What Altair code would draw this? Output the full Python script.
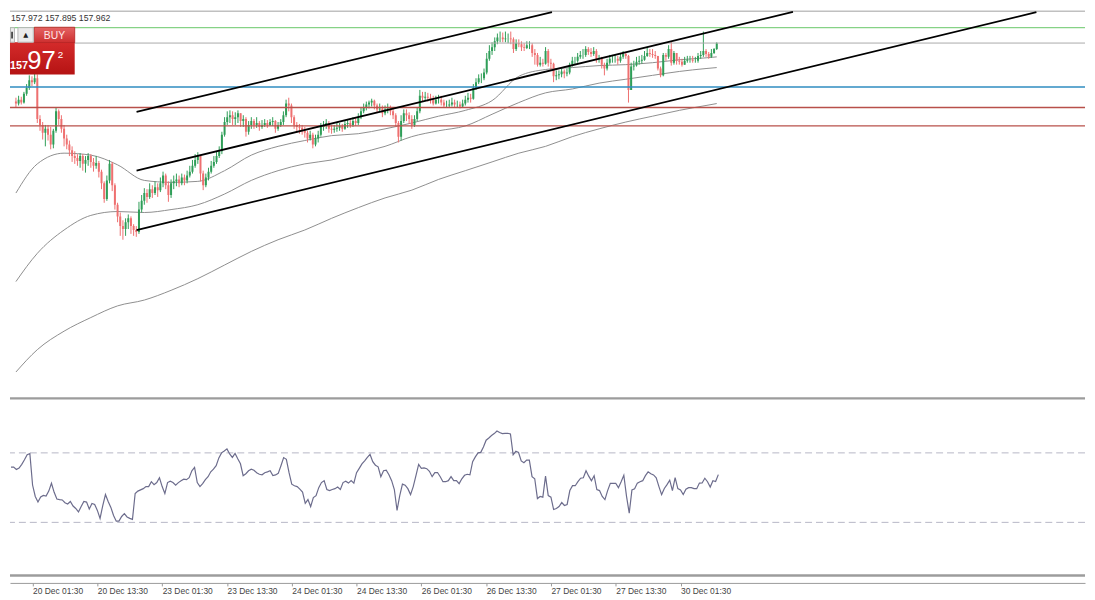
import altair as alt
import pandas as pd

# ---------------- data (M30 bars, index 0 = 20 Dec 01:30) ----------------
first_index = -8
first_open = 157.36

close = [
    157.34, 157.38, 157.35, 157.44, 157.50, 157.58, 157.56, 157.60, 157.18, 157.12,
    157.04, 157.08, 157.02, 156.92, 157.06, 157.26, 157.18, 157.08, 156.98, 156.92,
    156.86, 156.80, 156.78, 156.75, 156.80, 156.72, 156.76, 156.80, 156.74, 156.70,
    156.73, 156.64, 156.52, 156.36, 156.55, 156.72, 156.50, 156.30, 156.18, 156.08,
    156.05, 156.12, 156.16, 156.08, 156.04, 156.02, 156.25, 156.34, 156.42, 156.38,
    156.46, 156.42, 156.48, 156.45, 156.52, 156.60, 156.50, 156.40, 156.52, 156.54,
    156.56, 156.52, 156.58, 156.55, 156.60, 156.64, 156.70, 156.76, 156.80, 156.62,
    156.50, 156.58, 156.64, 156.70, 156.74, 156.80, 156.85, 157.02, 157.15, 157.20,
    157.22, 157.18, 157.20, 157.24, 157.16, 157.18, 157.05, 157.12, 157.16, 157.12,
    157.14, 157.10, 157.12, 157.14, 157.12, 157.15, 157.16, 157.08, 157.12, 157.15,
    157.22, 157.34, 157.32, 157.20, 157.12, 157.10, 157.09, 157.06, 157.04, 156.98,
    157.02, 156.92, 156.98, 157.02, 157.10, 157.12, 157.14, 157.08, 157.07, 157.08,
    157.09, 157.11, 157.08, 157.13, 157.14, 157.12, 157.16, 157.14, 157.20, 157.26,
    157.30, 157.33, 157.35, 157.37, 157.32, 157.28, 157.29, 157.24, 157.28, 157.29,
    157.26, 157.22, 157.14, 157.00, 157.16, 157.24, 157.22, 157.18, 157.12, 157.18,
    157.26, 157.42, 157.40, 157.41, 157.40, 157.38, 157.34, 157.38, 157.38, 157.35,
    157.32, 157.32, 157.33, 157.35, 157.33, 157.33, 157.31, 157.34, 157.38, 157.40,
    157.39, 157.50, 157.56, 157.60, 157.60, 157.66, 157.80, 157.88, 157.92, 157.98,
    158.02, 158.02, 158.00, 158.01, 158.01, 158.00, 157.90, 157.96, 157.95, 157.92,
    157.91, 157.94, 157.94, 157.86, 157.84, 157.74, 157.76, 157.75, 157.88, 157.76,
    157.75, 157.62, 157.63, 157.64, 157.67, 157.65, 157.66, 157.74, 157.78, 157.78,
    157.82, 157.84, 157.84, 157.90, 157.87, 157.85, 157.88, 157.80, 157.80, 157.74,
    157.70, 157.76, 157.80, 157.80, 157.80, 157.78, 157.82, 157.85, 157.83, 157.48,
    157.72, 157.73, 157.77, 157.78, 157.79, 157.83, 157.86, 157.85, 157.84, 157.83,
    157.70, 157.63, 157.84, 157.82, 157.90, 157.76, 157.86, 157.78, 157.77, 157.74,
    157.78, 157.79, 157.79, 157.78, 157.78, 157.83, 157.84, 157.88, 157.85, 157.82,
    157.86, 157.90, 157.96,
]

high = [
    157.40, 157.42, 157.41, 157.46, 157.54, 157.63, 157.62, 157.65, 157.64, 157.22,
    157.15, 157.12, 157.12, 157.10, 157.08, 157.30, 157.28, 157.22, 157.12, 157.02,
    156.96, 156.90, 156.85, 156.82, 156.83, 156.82, 156.80, 156.83, 156.82, 156.78,
    156.80, 156.75, 156.66, 156.54, 156.60, 156.76, 156.74, 156.52, 156.32, 156.22,
    156.14, 156.16, 156.20, 156.18, 156.10, 156.08, 156.33, 156.40, 156.47, 156.46,
    156.52, 156.50, 156.54, 156.52, 156.58, 156.64, 156.62, 156.54, 156.56, 156.60,
    156.62, 156.60, 156.62, 156.61, 156.65, 156.70, 156.76, 156.82, 156.84, 156.80,
    156.65, 156.62, 156.68, 156.75, 156.80, 156.85, 156.90, 157.05, 157.20, 157.26,
    157.27, 157.26, 157.25, 157.27, 157.24, 157.22, 157.20, 157.16, 157.20, 157.18,
    157.20, 157.16, 157.17, 157.18, 157.17, 157.18, 157.20, 157.17, 157.15, 157.18,
    157.26, 157.38, 157.40, 157.34, 157.22, 157.15, 157.13, 157.12, 157.10, 157.06,
    157.06, 157.04, 157.02, 157.06, 157.14, 157.16, 157.18, 157.16, 157.12, 157.12,
    157.14, 157.14, 157.13, 157.16, 157.18, 157.17, 157.20, 157.19, 157.24, 157.30,
    157.34, 157.36, 157.37, 157.39, 157.38, 157.34, 157.34, 157.32, 157.32, 157.34,
    157.32, 157.30, 157.24, 157.16, 157.22, 157.28, 157.28, 157.25, 157.22, 157.22,
    157.30, 157.48, 157.46, 157.46, 157.45, 157.44, 157.42, 157.42, 157.43, 157.42,
    157.38, 157.37, 157.38, 157.40, 157.38, 157.37, 157.36, 157.38, 157.42, 157.45,
    157.44, 157.54, 157.60, 157.64, 157.65, 157.70, 157.86, 157.94, 157.97, 158.02,
    158.06, 158.08, 158.07, 158.08, 158.06, 158.08, 158.02, 158.00, 158.00, 157.98,
    157.96, 157.98, 157.98, 157.96, 157.90, 157.86, 157.82, 157.80, 157.92, 157.90,
    157.80, 157.76, 157.68, 157.68, 157.70, 157.69, 157.70, 157.76, 157.82, 157.82,
    157.86, 157.88, 157.90, 157.93, 157.92, 157.91, 157.92, 157.90, 157.84, 157.82,
    157.76, 157.80, 157.84, 157.84, 157.84, 157.83, 157.86, 157.88, 157.86, 157.84,
    157.76, 157.78, 157.82, 157.83, 157.84, 157.88, 157.92, 157.90, 157.90, 157.88,
    157.76, 157.72, 157.86, 157.86, 157.94, 157.98, 157.88, 157.86, 157.82, 157.80,
    157.82, 157.83, 157.83, 157.83, 157.82, 157.86, 157.88, 158.08, 157.90, 157.87,
    157.90, 157.91, 157.97,
]

low = [
    157.30, 157.32, 157.33, 157.34, 157.42, 157.48, 157.52, 157.54, 157.14, 157.06,
    156.97, 156.90, 156.96, 156.87, 156.88, 157.04, 157.12, 157.04, 156.90, 156.87,
    156.80, 156.74, 156.72, 156.70, 156.68, 156.65, 156.63, 156.70, 156.68, 156.64,
    156.67, 156.58, 156.46, 156.32, 156.34, 156.52, 156.44, 156.25, 156.12, 155.98,
    155.94, 155.98, 156.05, 156.00, 155.98, 155.97, 156.00, 156.22, 156.30, 156.32,
    156.36, 156.37, 156.40, 156.38, 156.43, 156.48, 156.46, 156.33, 156.37, 156.46,
    156.49, 156.48, 156.50, 156.50, 156.52, 156.58, 156.62, 156.68, 156.72, 156.54,
    156.45, 156.48, 156.55, 156.62, 156.68, 156.72, 156.78, 156.82, 157.00, 157.12,
    157.14, 157.12, 157.12, 157.14, 157.10, 157.10, 157.00, 157.02, 157.08, 157.08,
    157.09, 157.06, 157.08, 157.10, 157.09, 157.11, 157.11, 157.04, 157.06, 157.10,
    157.12, 157.20, 157.26, 157.14, 157.08, 157.04, 157.03, 157.02, 156.99, 156.94,
    156.96, 156.88, 156.90, 156.94, 157.00, 157.06, 157.08, 157.04, 157.03, 157.04,
    157.05, 157.06, 157.05, 157.07, 157.09, 157.09, 157.10, 157.11, 157.12, 157.18,
    157.24, 157.27, 157.29, 157.31, 157.28, 157.25, 157.26, 157.20, 157.22, 157.24,
    157.22, 157.18, 157.10, 156.94, 156.96, 157.14, 157.16, 157.13, 157.08, 157.10,
    157.16, 157.24, 157.36, 157.37, 157.36, 157.34, 157.32, 157.33, 157.34, 157.32,
    157.30, 157.30, 157.30, 157.31, 157.30, 157.30, 157.29, 157.30, 157.32, 157.35,
    157.35, 157.38, 157.48, 157.54, 157.55, 157.58, 157.64, 157.78, 157.84, 157.88,
    157.95, 157.97, 157.97, 157.97, 157.96, 157.95, 157.86, 157.88, 157.92, 157.88,
    157.88, 157.90, 157.90, 157.82, 157.74, 157.72, 157.72, 157.72, 157.74, 157.72,
    157.68, 157.56, 157.58, 157.59, 157.61, 157.60, 157.62, 157.64, 157.72, 157.74,
    157.76, 157.80, 157.80, 157.82, 157.84, 157.82, 157.83, 157.76, 157.76, 157.70,
    157.63, 157.68, 157.74, 157.76, 157.76, 157.74, 157.76, 157.80, 157.80, 157.35,
    157.48, 157.68, 157.72, 157.74, 157.75, 157.78, 157.82, 157.82, 157.81, 157.80,
    157.68, 157.61, 157.62, 157.78, 157.80, 157.73, 157.74, 157.74, 157.74, 157.72,
    157.74, 157.76, 157.76, 157.76, 157.76, 157.76, 157.80, 157.82, 157.82, 157.80,
    157.81, 157.85, 157.89,
]

rsi = [
    61.8, 61.8, 60.4, 61.3, 63.4, 66.0, 68.9, 69.6, 51.5, 44.9,
    41.7, 44.6, 45.5, 45.2, 48.0, 52.5, 47.3, 43.4, 43.1, 42.9,
    41.3, 40.6, 42.0, 39.4, 38.0, 36.0, 39.1, 42.0, 41.7, 37.7,
    40.9, 40.3, 36.9, 32.3, 39.7, 46.0, 42.0, 38.6, 34.0, 30.7,
    30.7, 33.4, 35.0, 33.1, 32.3, 31.7, 46.6, 48.0, 48.7, 49.4,
    50.6, 50.6, 53.4, 51.7, 52.9, 55.7, 50.6, 46.6, 52.9, 53.7,
    52.9, 51.4, 52.9, 54.0, 54.9, 54.6, 55.7, 59.7, 61.6, 52.9,
    50.6, 52.3, 54.6, 56.3, 59.1, 60.6, 62.6, 67.1, 70.0, 71.1,
    72.3, 69.4, 67.4, 69.7, 66.6, 63.7, 56.9, 58.0, 59.7, 60.6,
    60.0, 58.6, 57.7, 57.4, 58.6, 59.1, 59.7, 56.9, 57.3, 58.2,
    62.6, 67.3, 66.3, 58.6, 52.0, 51.1, 50.6, 49.1, 47.4, 40.9,
    43.1, 39.1, 44.3, 45.4, 50.0, 52.9, 54.0, 48.9, 48.3, 48.9,
    49.4, 50.3, 48.9, 52.9, 53.7, 52.6, 54.0, 52.6, 58.6, 61.1,
    63.7, 65.4, 67.4, 69.1, 64.9, 62.9, 62.0, 56.3, 59.7, 60.0,
    57.4, 54.0, 48.9, 36.9, 45.4, 52.0, 51.4, 49.4, 46.0, 50.6,
    56.9, 63.4, 61.1, 61.4, 60.9, 59.4, 56.3, 58.6, 58.7, 56.3,
    53.4, 53.4, 54.0, 56.3, 54.0, 54.0, 52.3, 55.1, 57.1, 57.7,
    57.4, 64.9, 67.7, 70.0, 70.3, 73.4, 77.3, 78.6, 80.0, 81.1,
    82.6, 81.7, 81.1, 81.2, 81.3, 80.9, 68.9, 70.9, 70.2, 65.4,
    64.3, 65.8, 65.8, 56.3, 55.1, 43.7, 44.9, 44.5, 56.6, 45.4,
    44.5, 37.4, 38.0, 39.1, 41.4, 39.7, 40.3, 48.3, 51.1, 51.1,
    53.4, 55.4, 55.7, 59.7, 56.6, 54.0, 56.9, 48.9, 48.3, 44.9,
    43.1, 48.3, 52.5, 52.5, 52.5, 50.0, 53.4, 57.1, 45.0, 35.3,
    48.7, 49.3, 52.6, 53.4, 54.0, 56.9, 59.1, 58.0, 57.3, 55.7,
    50.6, 46.0, 49.5, 51.7, 54.3, 48.3, 55.7, 49.4, 48.7, 46.0,
    49.1, 50.0, 50.0, 49.4, 49.4, 52.6, 52.7, 55.4, 53.4, 50.3,
    54.0, 53.5, 57.5,
]

ma_index = [-8, 0, 10, 20, 30, 40, 50, 60, 70, 80, 90, 100, 110, 120,
            130, 140, 150, 160, 170, 180, 190, 200, 210, 220, 230, 240, 250, 254]
ma_fast = [156.42, 156.72, 156.83, 156.81, 156.71, 156.55, 156.53, 156.54, 156.65, 156.81,
           156.90, 156.96, 157.01, 157.03, 157.08, 157.14, 157.21, 157.27, 157.37, 157.62,
           157.69, 157.71, 157.73, 157.74, 157.76, 157.79, 157.81, 157.82]
ma_mid = [155.51, 155.80, 156.04, 156.19, 156.23, 156.22, 156.25, 156.30, 156.41, 156.55,
          156.65, 156.72, 156.76, 156.83, 156.90, 157.00, 157.06, 157.11, 157.23, 157.35,
          157.45, 157.49, 157.55, 157.59, 157.63, 157.67, 157.70, 157.71]
ma_slow = [154.58, 154.81, 155.00, 155.14, 155.26, 155.32, 155.42, 155.54, 155.68, 155.82,
           155.94, 156.04, 156.16, 156.27, 156.37, 156.45, 156.56, 156.65, 156.74, 156.83,
           156.90, 157.00, 157.08, 157.15, 157.21, 157.27, 157.32, 157.34]

level_prices = [158.12, 157.962, 157.51, 157.30, 157.11]
level_colors = ["#86d286", "#a9a9a9", "#2f8cc0", "#b8504a", "#b8504a"]
level_widths = [1.2, 1.0, 1.4, 1.4, 1.4]

trend_x1 = [37.1, 37.1, 37.1]
trend_y1 = [157.255, 156.65, 156.04]
trend_x2 = [192.4, 282.5, 373.5]
trend_y2 = [158.28, 158.283, 158.28]

rsi_levels = [70, 30]

tick_values = [0, 24, 48, 72, 96, 120, 144, 168, 192, 216, 240]
tick_labels = ["20 Dec 01:30", "20 Dec 13:30", "23 Dec 01:30", "23 Dec 13:30",
               "24 Dec 01:30", "24 Dec 13:30", "26 Dec 01:30", "26 Dec 13:30",
               "27 Dec 01:30", "27 Dec 13:30", "30 Dec 01:30"]

ohlc_text = "157.972 157.895 157.962"
bid_big = "97"
bid_small = "157"
bid_sup = "2"

# ---------------- tables ----------------
GREEN = "#2f9e58"
RED = "#ee7070"
idx = list(range(first_index, first_index + len(close)))
opens = [first_open] + close[:-1]
candles = pd.DataFrame({
    "i": idx, "open": opens, "close": close,
    "hi": [max(h, o, c) for h, o, c in zip(high, opens, close)],
    "lo": [min(l, o, c) for l, o, c in zip(low, opens, close)],
})
candles["col"] = [GREEN if c >= o else RED for o, c in zip(opens, close)]

ma_df = pd.concat([
    pd.DataFrame({"i": ma_index, "v": ma_fast, "name": "fast"}),
    pd.DataFrame({"i": ma_index, "v": ma_mid, "name": "mid"}),
    pd.DataFrame({"i": ma_index, "v": ma_slow, "name": "slow"}),
])
levels_df = pd.DataFrame({"price": level_prices, "col": level_colors, "w": level_widths})
trend_df = pd.DataFrame({"x1": trend_x1, "y1": trend_y1, "x2": trend_x2, "y2": trend_y2})
rsi_df = pd.DataFrame({"i": idx, "rsi": rsi})
rsi_lv = pd.DataFrame({"lv": rsi_levels})
one = pd.DataFrame({"k": [0]})

W, H1, H2 = 1083, 391, 175
xs = alt.Scale(domain=[-8.364, 389.82], nice=False, zero=False)
ys = alt.Scale(domain=[154.31, 158.30], nice=False, zero=False)
rs = alt.Scale(domain=[-0.29, 99.71], nice=False, zero=False)
FONT = "Liberation Sans"

X = alt.X("i:Q", scale=xs, axis=None)

top_border = alt.Chart(one).mark_rule(color="#a0a0a0", strokeWidth=1).encode(
    x=alt.value(0), x2=alt.value(W), y=alt.value(1))
sep1 = alt.Chart(one).mark_rule(color="#9c9c9c", strokeWidth=2.2).encode(
    x=alt.value(0), x2=alt.value(W), y=alt.value(H1))

mas = alt.Chart(ma_df).mark_line(interpolate="monotone", color="#8e8e8e", strokeWidth=1, clip=True).encode(
    x=X, y=alt.Y("v:Q", scale=ys, axis=None), detail="name:N")

wicks = alt.Chart(candles).mark_rule(strokeWidth=1, clip=True).encode(
    x=X, y=alt.Y("lo:Q", scale=ys, axis=None), y2="hi:Q",
    color=alt.Color("col:N", scale=None))
bodies = alt.Chart(candles).mark_bar(size=2, clip=True).encode(
    x=X, y=alt.Y("open:Q", scale=ys, axis=None), y2="close:Q",
    color=alt.Color("col:N", scale=None))

levels = alt.Chart(levels_df).mark_rule().encode(
    y=alt.Y("price:Q", scale=ys, axis=None),
    color=alt.Color("col:N", scale=None),
    strokeWidth=alt.StrokeWidth("w:Q", scale=None))

trends = alt.Chart(trend_df).mark_rule(color="#000000", strokeWidth=1.8, clip=True).encode(
    x=alt.X("x1:Q", scale=xs, axis=None), y=alt.Y("y1:Q", scale=ys, axis=None),
    x2="x2:Q", y2="y2:Q")

txt_ohlc = alt.Chart(one).mark_text(text=ohlc_text, align="left", baseline="middle",
                                    font=FONT, fontSize=8.8, color="#333333").encode(
    x=alt.value(1), y=alt.value(7.9))

red_grad = alt.LinearGradient(gradient="linear", x1=0, y1=0, x2=0, y2=1, stops=[
    alt.GradientStop(color="#d42b2b", offset=0), alt.GradientStop(color="#b51313", offset=1)])
buy_grad = alt.LinearGradient(gradient="linear", x1=0, y1=0, x2=0, y2=1, stops=[
    alt.GradientStop(color="#e46363", offset=0), alt.GradientStop(color="#cd2f2f", offset=1)])

btn_a = alt.Chart(one).mark_rect(fill="#ececec", stroke="#b5b5b5", strokeWidth=1).encode(
    x=alt.value(0.5), x2=alt.value(4.5), y=alt.value(17.6), y2=alt.value(32.3))
btn_a_glyph = alt.Chart(one).mark_rect(fill="#444444").encode(
    x=alt.value(1.2), x2=alt.value(3), y=alt.value(21.8), y2=alt.value(28.5))
btn_b = alt.Chart(one).mark_rect(fill="#ececec", stroke="#b5b5b5", strokeWidth=1).encode(
    x=alt.value(8), x2=alt.value(23.5), y=alt.value(17.6), y2=alt.value(32.3))
btn_b_txt = alt.Chart(one).mark_text(text="▲", align="center", baseline="middle",
                                     font="DejaVu Sans", fontSize=6.5, color="#222222").encode(
    x=alt.value(15.8), y=alt.value(25.2))
buy_rect = alt.Chart(one).mark_rect(fill=buy_grad, stroke="#b52020", strokeWidth=0.8).encode(
    x=alt.value(24.5), x2=alt.value(65.2), y=alt.value(17.2), y2=alt.value(32.6))
price_rect = alt.Chart(one).mark_rect(fill=red_grad).encode(
    x=alt.value(0), x2=alt.value(65.2), y=alt.value(32.2), y2=alt.value(64.8))
buy_txt = alt.Chart(one).mark_text(text="BUY", align="center", baseline="middle",
                                   font=FONT, fontSize=10.4, color="#ffe8e8").encode(
    x=alt.value(44.8), y=alt.value(25.6))
small_txt = alt.Chart(one).mark_text(text=bid_small, align="left", baseline="alphabetic",
                                     font=FONT, fontSize=10.9, fontWeight="bold", color="#ffffff").encode(
    x=alt.value(0), y=alt.value(59))
big_txt = alt.Chart(one).mark_text(text=bid_big, align="center", baseline="alphabetic",
                                   font=FONT, fontSize=25.8, color="#ffffff").encode(
    x=alt.value(31.8), y=alt.value(58.8))
sup_txt = alt.Chart(one).mark_text(text=bid_sup, align="left", baseline="alphabetic",
                                   font=FONT, fontSize=9.9, color="#ffffff").encode(
    x=alt.value(48.2), y=alt.value(48.3))

main = alt.layer(
    top_border, mas, wicks, bodies, levels, trends, sep1,
    price_rect, buy_rect, btn_a, btn_a_glyph, btn_b, btn_b_txt,
    buy_txt, small_txt, big_txt, sup_txt, txt_ohlc,
).properties(width=W, height=H1)

label_expr = "[" + ",".join("'%s'" % s for s in tick_labels) + "][round(datum.value / 24)]"
x_axis = alt.Axis(values=tick_values, labelExpr=label_expr, grid=False, offset=8,
                  domainColor="#9a9a9a", domainWidth=1, tickColor="#9a9a9a", tickSize=3,
                  labelAlign="left", labelBaseline="top", labelPadding=1,
                  labelFont=FONT, labelFontSize=8.5, labelColor="#444444",
                  labelOverlap=False, labelFlush=False, title=None)

rsi_levels_ch = alt.Chart(rsi_lv).mark_rule(color="#b6b6c6", strokeWidth=1, strokeDash=[7, 4]).encode(
    y=alt.Y("lv:Q", scale=rs, axis=None))
rsi_line = alt.Chart(rsi_df).mark_line(color="#6c6c8c", strokeWidth=1.2, clip=True).encode(
    x=alt.X("i:Q", scale=xs, axis=x_axis), y=alt.Y("rsi:Q", scale=rs, axis=None))
sep2 = alt.Chart(one).mark_rule(color="#9c9c9c", strokeWidth=2.4).encode(
    x=alt.value(0), x2=alt.value(W), y=alt.value(H2 + 0.5))

rsi_chart = alt.layer(rsi_levels_ch, rsi_line, sep2).properties(width=W, height=H2)

chart = alt.vconcat(main, rsi_chart, spacing=1).properties(
    padding=0, background="#ffffff").configure_view(stroke=None)

chart.save("out.html", embed_options={"renderer": "svg", "actions": False})
